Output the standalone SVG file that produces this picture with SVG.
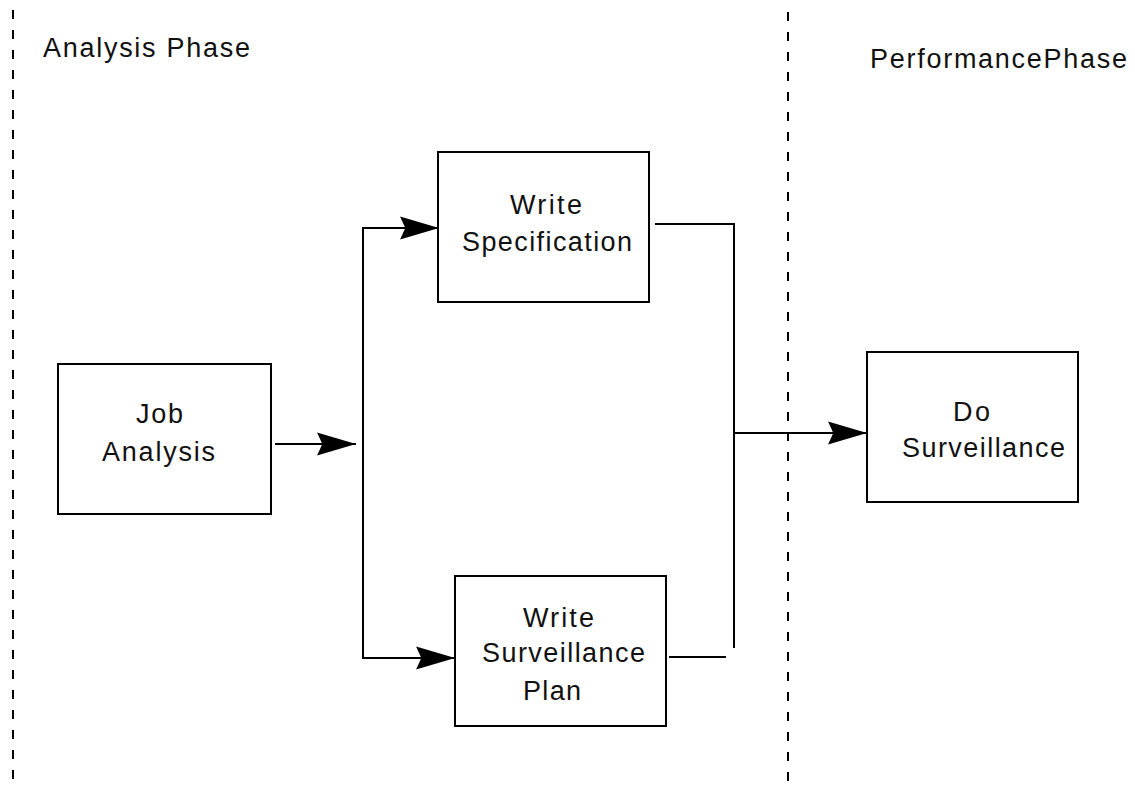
<svg xmlns="http://www.w3.org/2000/svg" width="1135" height="785" viewBox="0 0 1135 785">
<style>
.bg{fill:#ffffff}
.box{fill:#ffffff;stroke:#000000;stroke-width:2}
.lbl{font-family:"Liberation Sans",Arial,sans-serif;font-size:27px;fill:#111111}
.conn{fill:none;stroke:#000000;stroke-width:2}
.lane{fill:none;stroke:#000000;stroke-width:2;stroke-dasharray:9 11}
</style>
<defs>
<marker id="arr" markerUnits="userSpaceOnUse" markerWidth="40" markerHeight="24" viewBox="0 0 38 22" refX="37" refY="11" orient="auto">
<path d="M0,0 L37,11 L0,22 L5,11 Z" fill="#000000"/>
</marker>
</defs>
<rect class="bg" x="0" y="0" width="1135" height="785"/>
<g id="lanes">
<line class="lane" x1="13" y1="10" x2="13" y2="785"/>
<line class="lane" x1="788" y1="12" x2="788" y2="785"/>
<text class="lbl" x="43" y="57" textLength="207" lengthAdjust="spacing">Analysis Phase</text>
<text class="lbl" x="870" y="68" textLength="257" lengthAdjust="spacing">PerformancePhase</text>
</g>
<g id="connectors">
<line class="conn" x1="275" y1="444" x2="356" y2="444" marker-end="url(#arr)"/>
<line class="conn" x1="363" y1="228" x2="363" y2="659"/>
<line class="conn" x1="362" y1="228" x2="439" y2="228" marker-end="url(#arr)"/>
<line class="conn" x1="362" y1="658" x2="455" y2="658" marker-end="url(#arr)"/>
<polyline class="conn" points="655,224 734,224 734,648"/>
<line class="conn" x1="669" y1="657" x2="726" y2="657"/>
<line class="conn" x1="733" y1="433" x2="867" y2="433" marker-end="url(#arr)"/>
</g>
<g id="job-analysis">
<rect class="box" x="58" y="364" width="213" height="150"/>
<text class="lbl" x="136" y="423" textLength="47" lengthAdjust="spacing">Job</text>
<text class="lbl" x="102" y="461" textLength="113" lengthAdjust="spacing">Analysis</text>
</g>
<g id="write-specification">
<rect class="box" x="438" y="152" width="211" height="150"/>
<text class="lbl" x="510" y="214" textLength="72" lengthAdjust="spacing">Write</text>
<text class="lbl" x="462" y="251" textLength="170" lengthAdjust="spacing">Specification</text>
</g>
<g id="write-surveillance-plan">
<rect class="box" x="455" y="576" width="211" height="150"/>
<text class="lbl" x="523" y="627" textLength="71" lengthAdjust="spacing">Write</text>
<text class="lbl" x="482" y="662" textLength="163" lengthAdjust="spacing">Surveillance</text>
<text class="lbl" x="523" y="700" textLength="58" lengthAdjust="spacing">Plan</text>
</g>
<g id="do-surveillance">
<rect class="box" x="867" y="352" width="211" height="150"/>
<text class="lbl" x="953" y="421" textLength="37" lengthAdjust="spacing">Do</text>
<text class="lbl" x="902" y="457" textLength="163" lengthAdjust="spacing">Surveillance</text>
</g>
</svg>
